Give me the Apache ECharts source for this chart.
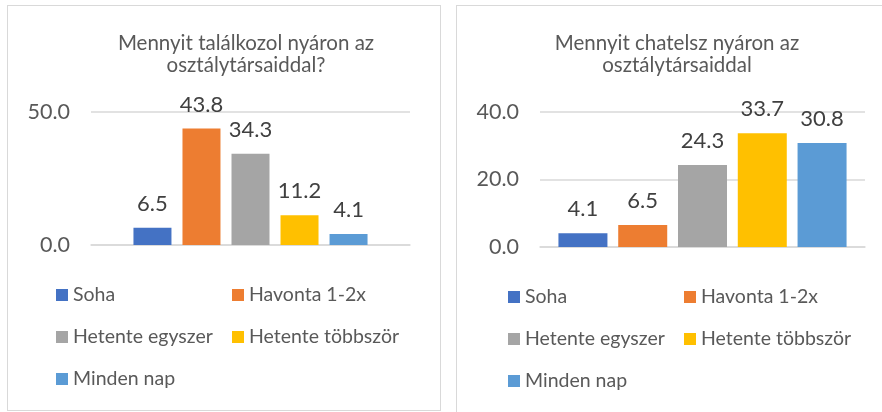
<!DOCTYPE html>
<html>
<head>
<meta charset="utf-8">
<script src="https://cdn.jsdelivr.net/npm/echarts@6/dist/echarts.min.js"></script>
<style>
  body { margin: 0; background: #fff; overflow: hidden; width: 882px; height: 412px; position: relative; }
  .panel { position: absolute; border: 1px solid #d9d9d9; background: #fff; }
</style>
</head>
<body>
<div id="left" class="panel" style="left: 7px; top: 5px; width: 432px; height: 404px;"></div>
<div id="right" class="panel" style="left: 456px; top: 5px; width: 440px; height: 420px;"></div>
<script>
var seriesNames = ["Soha", "Havonta 1-2x", "Hetente egyszer", "Hetente többször", "Minden nap"];
var colors = ["#4472C4", "#ED7D31", "#A5A5A5", "#FFC000", "#5B9BD5"];
var meetValues = [6.5, 43.8, 34.3, 11.2, 4.1];
var chatValues = [4.1, 6.5, 24.3, 33.7, 30.8];
var meetTitle = "Mennyit találkozol nyáron az\nosztálytársaiddal?";
var chatTitle = "Mennyit chatelsz nyáron az\nosztálytársaiddal";

var font = "Lato";
var textColor = "#595959";

function makeChart(domId, cfg) {
  var myChart = echarts.init(document.getElementById(domId));
  var series = seriesNames.map(function (name, i) {
    return {
      name: name,
      type: "bar",
      data: [cfg.values[i]],
      barWidth: cfg.barWidth,
      barGap: cfg.barGap,
      itemStyle: { color: colors[i] },
      label: {
        show: true,
        position: "top",
        distance: 13,
        fontFamily: font,
        fontSize: 22,
        color: "#404040",
        formatter: function (p) { return p.value.toFixed(1); },
      },
    };
  });
  var legendText = { fontFamily: font, fontSize: 19.5, color: textColor, lineHeight: 20 };
  var option = {
    animation: false,
    title: {
      text: cfg.title,
      left: cfg.titleX,
      top: 26,
      padding: 0,
      textAlign: "center",
      textStyle: { fontFamily: font, fontSize: 20.5, fontWeight: "normal", color: textColor, lineHeight: 22 },
    },
    legend: [
      {
        data: [seriesNames[0], seriesNames[2], seriesNames[4]],
        orient: "vertical",
        left: cfg.legendX[0],
        top: cfg.legendTop,
        padding: 0,
        itemWidth: 12,
        itemHeight: 12,
        itemGap: 22,
        icon: "rect",
        textStyle: legendText,
      },
      {
        data: [seriesNames[1], seriesNames[3]],
        orient: "vertical",
        left: cfg.legendX[1],
        top: cfg.legendTop,
        padding: 0,
        itemWidth: 12,
        itemHeight: 12,
        itemGap: 22,
        icon: "rect",
        textStyle: legendText,
      },
    ],
    grid: cfg.grid,
    xAxis: {
      type: "category",
      data: [""],
      axisLine: { show: true, lineStyle: { color: "#d9d9d9", width: 1.5 } },
      axisTick: { show: false },
      axisLabel: { show: false },
    },
    yAxis: {
      type: "value",
      min: 0,
      max: cfg.max,
      interval: cfg.interval,
      axisLine: { show: false },
      axisTick: { show: false },
      axisLabel: {
        margin: 21,
        fontFamily: font,
        fontSize: 21.5,
        color: textColor,
        formatter: function (v) { return v.toFixed(1); },
      },
      splitLine: { lineStyle: { color: "#d9d9d9", width: 1.5 } },
    },
    series: series,
  };
  myChart.setOption(option);
}

makeChart("left", {
  values: meetValues,
  title: meetTitle,
  titleX: 238,
  max: 50,
  interval: 50,
  barWidth: 38,
  barGap: "29%",
  grid: { left: 83, top: 106, width: 319, height: 133 },
  legendX: [48, 224],
  legendTop: 279,
});

makeChart("right", {
  values: chatValues,
  title: chatTitle,
  titleX: 220,
  max: 40,
  interval: 20,
  barWidth: 49,
  barGap: "22%",
  grid: { left: 83, top: 106, width: 325, height: 135 },
  legendX: [51, 227],
  legendTop: 281,
});
</script>
</body>
</html>
